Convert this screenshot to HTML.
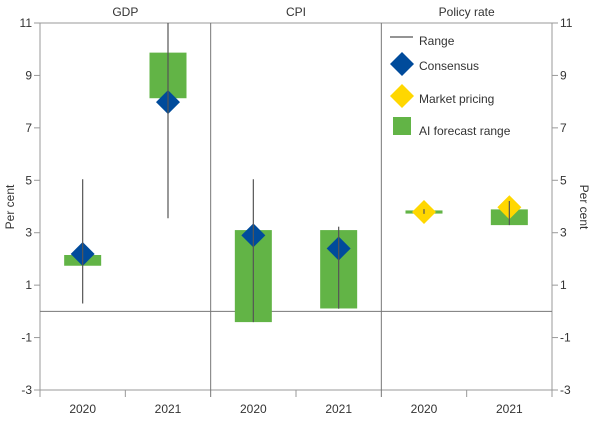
<!DOCTYPE html>
<html><head><meta charset="utf-8"><style>
body{margin:0;background:#fff}
svg text{font-family:"Liberation Sans",sans-serif;font-size:12px;fill:#333}
</style></head><body>
<svg id="chart" width="600" height="421" viewBox="0 0 600 421" xmlns="http://www.w3.org/2000/svg"></svg>
<script>
const panels=["GDP","CPI","Policy rate"];
const categories=["2020","2021","2020","2021","2020","2021"];
const barLow=[1.74,8.13,-0.41,0.11,3.73,3.29];
const barHigh=[2.15,9.87,3.1,3.1,3.85,3.89];
const rangeLow=[0.3,3.55,-0.41,0.1,3.72,3.29];
const rangeHigh=[5.04,11,5.04,3.23,3.9,4.21];
const pointValues=[2.19,7.98,2.9,2.4,3.79,3.97];
const pointType=["consensus","consensus","consensus","consensus","market","market"];
const tickLabels=[11,9,7,5,3,1,-1,-3];
const tickValues=[11,9,7,5,3,1,-1,-3];

const svg=document.getElementById('chart');
const NS="http://www.w3.org/2000/svg";
const L=40,R=552,T=23,B=390,vmin=-3,vmax=11;
const y=v=>B-(v-vmin)/(vmax-vmin)*(B-T);
const cw=(R-L)/categories.length;
const xc=i=>L+cw*(i+0.5);
function add(tag,attrs,name,parent){const e=document.createElementNS(NS,tag);for(const k in attrs)e.setAttribute(k,attrs[k]);


(parent||svg).appendChild(e);return e;}
function txt(x0,y0,s,name,anchor,extra){const t=add('text',Object.assign({x:x0,y:y0,'text-anchor':anchor||'middle'},extra||{}),name);t.textContent=s;return t;}
// frame
add('line',{x1:L,y1:T,x2:R,y2:T,stroke:'#999','stroke-width':1},'top-border');
add('line',{x1:L,y1:T,x2:L,y2:B+7,stroke:'#999','stroke-width':1},'left-axis');
add('line',{x1:R,y1:T,x2:R,y2:B+7,stroke:'#999','stroke-width':1},'right-axis');
add('line',{x1:L,y1:B,x2:R,y2:B,stroke:'#999','stroke-width':1},'bottom-axis');
add('line',{x1:L,y1:y(0),x2:R,y2:y(0),stroke:'#777','stroke-width':1},'zero-line');
for(let p=1;p<3;p++){const xx=L+cw*2*p;add('line',{x1:xx,y1:T,x2:xx,y2:B+7,stroke:'#777','stroke-width':1},'panel-divider');}
for(let i=1;i<categories.length;i+=2){const xx=L+cw*i;add('line',{x1:xx,y1:B,x2:xx,y2:B+7,stroke:'#999','stroke-width':1},'x-tick');}
tickValues.forEach((v,i)=>{const yy=y(v);
add('line',{x1:L-6,y1:yy,x2:L,y2:yy,stroke:'#999'},'left-tick');
add('line',{x1:R,y1:yy,x2:R+6,y2:yy,stroke:'#999'},'right-tick');
txt(L-8,yy+4,String(tickLabels[i]),'left-tick-label','end');
txt(R+8,yy+4,String(tickLabels[i]),'right-tick-label','start');});
panels.forEach((p,i)=>txt(L+cw*(2*i+1),16,p,'panel-title'));
categories.forEach((c,i)=>txt(xc(i),413,c,'x-tick-label'));
txt(14,207,'Per cent','left-y-axis-title','middle',{transform:'rotate(-90 14 207)'});
txt(580,207,'Per cent','right-y-axis-title','middle',{transform:'rotate(90 580 207)'});
// series
categories.forEach((c,i)=>{const x0=xc(i),bw=37;
add('rect',{x:x0-bw/2,y:y(barHigh[i]),width:bw,height:y(barLow[i])-y(barHigh[i]),fill:'#62b446'},'ai-forecast-bar');
const col=pointType[i]=='market'?'#ffd700':'#004b9b';
const py=y(pointValues[i]),h=12;
add('polygon',{points:`${x0},${py-h} ${x0+h},${py} ${x0},${py+h} ${x0-h},${py}`,fill:col},pointType[i]+'-marker');
add('line',{x1:x0,y1:y(rangeHigh[i]),x2:x0,y2:y(rangeLow[i]),stroke:'#555','stroke-width':1.2},'range-line');
});
// legend
add('line',{x1:390,y1:37,x2:413,y2:37,stroke:'#555','stroke-width':1.2},'legend-range-swatch');
txt(419,45,'Range','legend-range-label','start');
add('polygon',{points:'402,52 414,64 402,76 390,64',fill:'#004b9b'},'legend-consensus-swatch');
txt(419,70,'Consensus','legend-consensus-label','start');
add('polygon',{points:'402,84 414,96 402,108 390,96',fill:'#ffd700'},'legend-market-swatch');
txt(419,103,'Market pricing','legend-market-label','start');
add('rect',{x:393,y:117,width:18,height:18,fill:'#62b446'},'legend-ai-swatch');
txt(419,135,'AI forecast range','legend-ai-label','start');
</script>
</body></html>
